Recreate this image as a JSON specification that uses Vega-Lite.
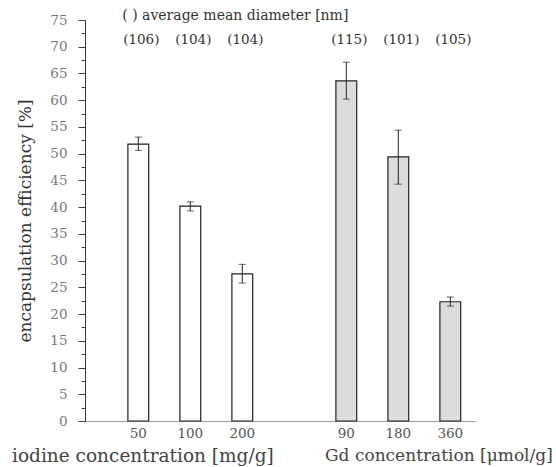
{
  "$schema": "https://vega.github.io/schema/vega-lite/v6.json",
  "width": 390,
  "height": 401,
  "autosize": {"type": "none"},
  "padding": {"left": 85, "top": 20, "right": 81, "bottom": 46},
  "background": "white",
  "config": {
    "view": {"stroke": null},
    "font": "DejaVu Serif",
    "axisY": {
      "labelPadding": 11, "labelFontSize": 13.5, "labelColor": "#777",
      "titleFontSize": 17, "titleFontWeight": "normal", "titleColor": "#333", "titlePadding": 15,
      "domainColor": "#333", "tickColor": "#444", "grid": false
    }
  },
  "datasets": {
    "bars": [
      {"conc": "50", "group": "iodine", "value": 51.8, "lo": 50.6, "hi": 53.1, "diam": "(106)"},
      {"conc": "100", "group": "iodine", "value": 40.2, "lo": 39.3, "hi": 41.0, "diam": "(104)"},
      {"conc": "200", "group": "iodine", "value": 27.5, "lo": 25.8, "hi": 29.3, "diam": "(104)"},
      {"conc": "90", "group": "Gd", "value": 63.6, "lo": 60.2, "hi": 67.1, "diam": "(115)"},
      {"conc": "180", "group": "Gd", "value": 49.4, "lo": 44.3, "hi": 54.4, "diam": "(101)"},
      {"conc": "360", "group": "Gd", "value": 22.3, "lo": 21.5, "hi": 23.2, "diam": "(105)"}
    ],
    "groups": [
      {"label": "iodine concentration [mg/g]", "at": "50", "y": -6.5, "shift": 15, "size": 18.5},
      {"label": "Gd concentration [μmol/g]", "at": "360", "y": -6.5, "shift": -1, "size": 17}
    ],
    "note": [
      {"label": "( ) average mean diameter [nm]", "at": "200", "y": 75.75}
    ]
  },
  "layer": [
    {
      "data": {"name": "bars"},
      "mark": {"type": "bar", "stroke": "#222", "strokeWidth": 1.2},
      "encoding": {
        "x": {
          "field": "conc", "type": "nominal", "sort": null,
          "scale": {"domain": ["50", "100", "200", "gap", "90", "180", "360"], "paddingInner": 0.6, "paddingOuter": 0.55, "align": 0.75},
          "axis": {"title": null, "labelExpr": "datum.value === 'gap' ? '' : datum.label", "ticks": false, "labelPadding": 5, "labelFontSize": 13.5, "labelColor": "#555", "labelAngle": 0, "domainColor": "#999"}
        },
        "y": {
          "field": "value", "type": "quantitative",
          "title": "encapsulation efficiency [%]",
          "scale": {"domain": [0, 75], "nice": false, "zero": true},
          "axis": {
            "values": [0, 2.5, 5, 7.5, 10, 12.5, 15, 17.5, 20, 22.5, 25, 27.5, 30, 32.5, 35, 37.5, 40, 42.5, 45, 47.5, 50, 52.5, 55, 57.5, 60, 62.5, 65, 67.5, 70, 72.5, 75],
            "labelExpr": "datum.value % 5 === 0 ? datum.label : ''",
            "tickSize": {"condition": {"test": "datum.value % 5 === 0", "value": 7}, "value": 4}
          }
        },
        "fill": {"field": "group", "type": "nominal", "scale": {"domain": ["iodine", "Gd"], "range": ["#ffffff", "#dcdcdc"]}, "legend": null}
      }
    },
    {
      "data": {"name": "bars"},
      "mark": {"type": "errorbar", "ticks": {"size": 7}, "color": "#222"},
      "encoding": {
        "x": {"field": "conc", "type": "nominal"},
        "y": {
          "field": "lo", "type": "quantitative", "title": "encapsulation efficiency [%]",
          "axis": {
            "values": [0, 2.5, 5, 7.5, 10, 12.5, 15, 17.5, 20, 22.5, 25, 27.5, 30, 32.5, 35, 37.5, 40, 42.5, 45, 47.5, 50, 52.5, 55, 57.5, 60, 62.5, 65, 67.5, 70, 72.5, 75],
            "labelExpr": "datum.value % 5 === 0 ? datum.label : ''",
            "tickSize": {"condition": {"test": "datum.value % 5 === 0", "value": 7}, "value": 4}
          }
        },
        "y2": {"field": "hi"}
      }
    },
    {
      "data": {"name": "bars"},
      "mark": {"type": "text", "fontSize": 13.5, "color": "#333", "dx": 3, "baseline": "middle"},
      "encoding": {
        "x": {"field": "conc", "type": "nominal"},
        "y": {
          "datum": 71.3, "type": "quantitative", "title": "encapsulation efficiency [%]",
          "axis": {
            "values": [0, 2.5, 5, 7.5, 10, 12.5, 15, 17.5, 20, 22.5, 25, 27.5, 30, 32.5, 35, 37.5, 40, 42.5, 45, 47.5, 50, 52.5, 55, 57.5, 60, 62.5, 65, 67.5, 70, 72.5, 75],
            "labelExpr": "datum.value % 5 === 0 ? datum.label : ''",
            "tickSize": {"condition": {"test": "datum.value % 5 === 0", "value": 7}, "value": 4}
          }
        },
        "text": {"field": "diam"}
      }
    },
    {
      "data": {"name": "note"},
      "mark": {"type": "text", "fontSize": 14, "color": "#333", "dx": -7, "baseline": "middle"},
      "encoding": {
        "x": {"field": "at", "type": "nominal"},
        "y": {
          "field": "y", "type": "quantitative", "title": "encapsulation efficiency [%]",
          "axis": {
            "values": [0, 2.5, 5, 7.5, 10, 12.5, 15, 17.5, 20, 22.5, 25, 27.5, 30, 32.5, 35, 37.5, 40, 42.5, 45, 47.5, 50, 52.5, 55, 57.5, 60, 62.5, 65, 67.5, 70, 72.5, 75],
            "labelExpr": "datum.value % 5 === 0 ? datum.label : ''",
            "tickSize": {"condition": {"test": "datum.value % 5 === 0", "value": 7}, "value": 4}
          }
        },
        "text": {"field": "label"}
      }
    },
    {
      "data": {"name": "groups"},
      "mark": {"type": "text", "color": "#444", "baseline": "middle"},
      "encoding": {
        "x": {"field": "at", "type": "nominal"},
        "y": {
          "field": "y", "type": "quantitative", "title": "encapsulation efficiency [%]",
          "axis": {
            "values": [0, 2.5, 5, 7.5, 10, 12.5, 15, 17.5, 20, 22.5, 25, 27.5, 30, 32.5, 35, 37.5, 40, 42.5, 45, 47.5, 50, 52.5, 55, 57.5, 60, 62.5, 65, 67.5, 70, 72.5, 75],
            "labelExpr": "datum.value % 5 === 0 ? datum.label : ''",
            "tickSize": {"condition": {"test": "datum.value % 5 === 0", "value": 7}, "value": 4}
          }
        },
        "xOffset": {"field": "shift", "type": "quantitative", "scale": null},
        "size": {"field": "size", "type": "quantitative", "scale": null, "legend": null},
        "text": {"field": "label"}
      }
    }
  ]
}
